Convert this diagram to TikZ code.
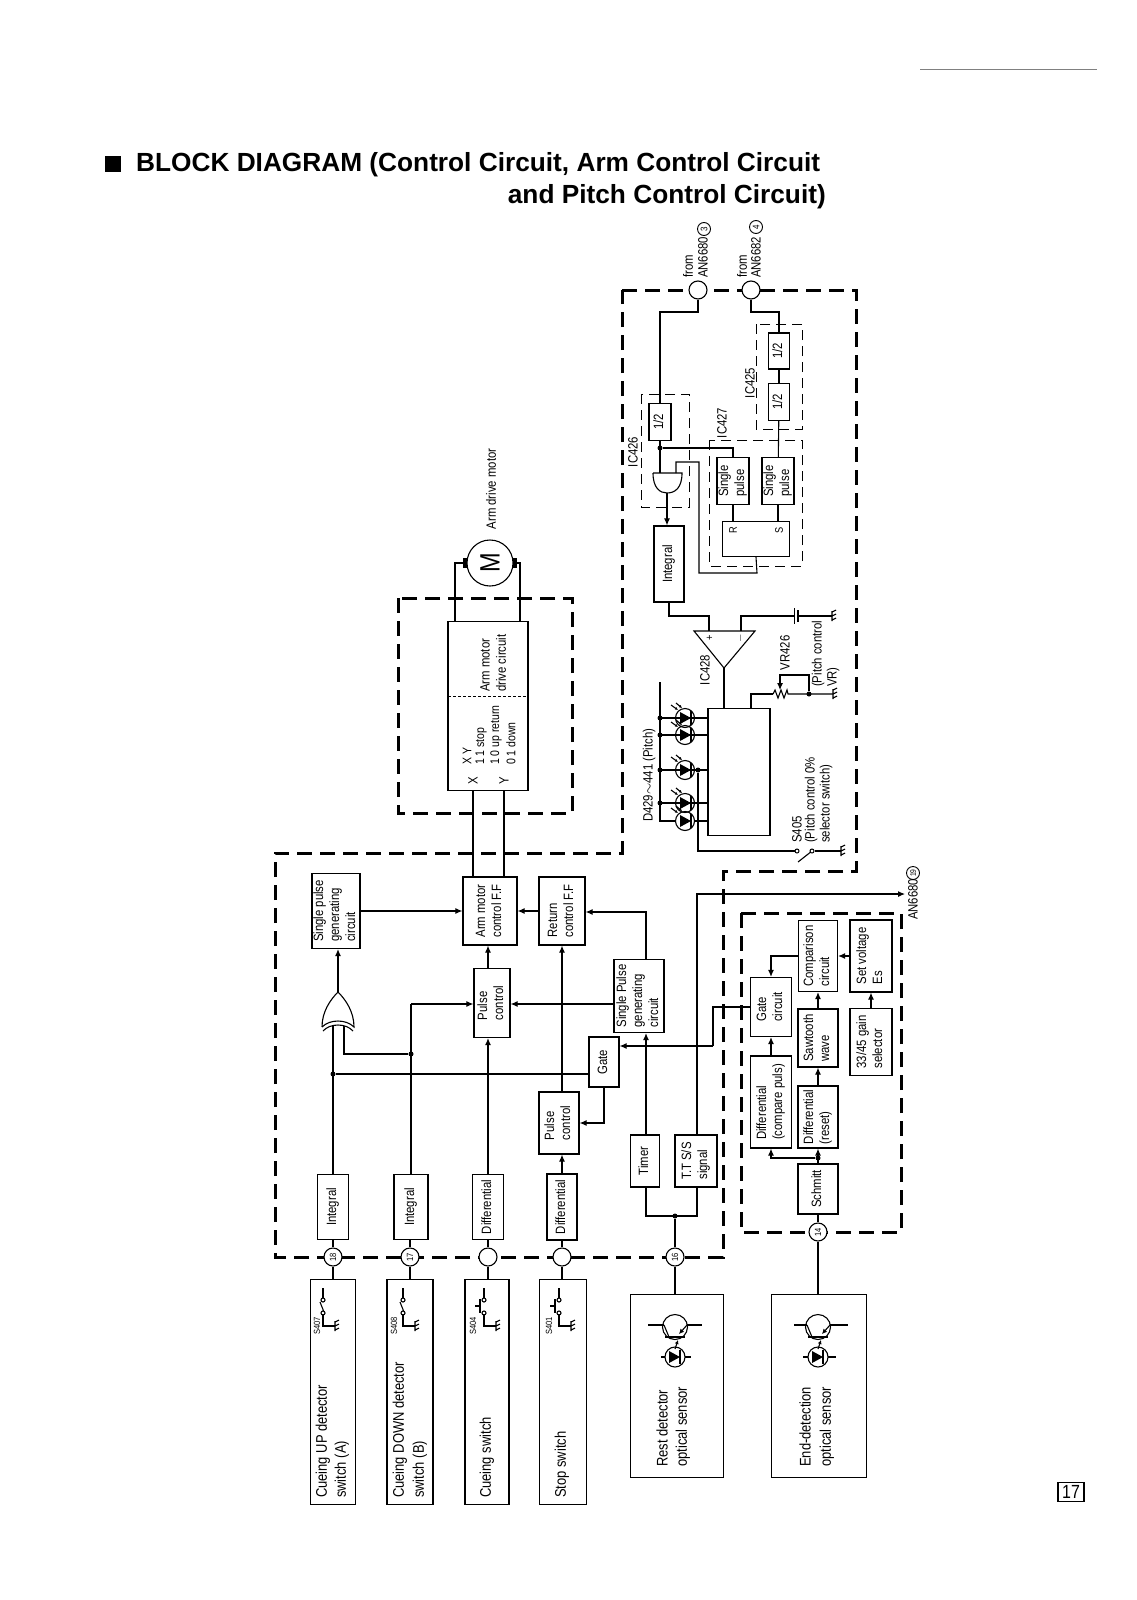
\documentclass[tikz,border=0pt]{standalone}
\usepackage{fontspec}
\setmainfont{Liberation Sans}[FakeStretch=0.84]
\newfontfamily\titlefont{Liberation Sans}
\usetikzlibrary{arrows.meta}
\newcommand{\rtxt}[1]{\rotatebox{90}{\begin{tabular}{@{}l@{}}#1\end{tabular}}}
\tikzset{
  wire/.style={line width=1.1pt},
  arr/.style={wire,-{Latex[length=7pt,width=6pt]}},
  fatdash/.style={line width=3pt,dash pattern=on 15pt off 8pt},
  icdash/.style={line width=1pt,dash pattern=on 10pt off 6pt},
  blk/.style 2 args={draw,line width=1.2pt,inner sep=0pt,minimum width=#1,minimum height=#2,font=\fontsize{13.5}{16}\selectfont},
  port/.style={draw,circle,fill=white,line width=1.1pt,inner sep=0pt,minimum size=18pt,font=\fontsize{9}{9}\selectfont},
  cnum/.style={draw,circle,line width=.9pt,inner sep=0pt,minimum size=13pt,font=\fontsize{9.5}{9.5}\selectfont},
  dot/.style={circle,fill=black,inner sep=0pt,minimum size=5pt},
  lab/.style={rotate=90,anchor=west,inner sep=0pt,font=\fontsize{13.5}{16}\selectfont},
  biglab/.style={lab,font=\fontsize{15.4}{19}\selectfont},
  tablab/.style={lab,font=\fontsize{12.5}{14}\selectfont},
  small/.style={rotate=90,inner sep=0pt,font=\fontsize{9}{9}\selectfont},
  gnd/.pic={\draw[wire] (0,-5) -- (0,5) (0,-4) -- (4,-6) (0,0) -- (4,-2) (0,4) -- (4,2);},
  swopen/.pic={
    \draw[wire] (0,0) -- (0,10) (0,26) -- (0,38) -- (12,38);
    \draw[wire] (0,12) circle (2pt) (0,25) circle (2pt) (-3,14) -- (1,24);
    \path (12,38) pic {gnd};},
  swpush/.pic={
    \draw[wire] (0,0) -- (0,10) (0,26) -- (0,38) -- (12,38);
    \draw[wire] (0,12) circle (2pt) (0,25) circle (2pt);
    \draw[line width=1.8pt] (-4,11) -- (-4,25) (-9,18) -- (-4,18);
    \path (12,38) pic {gnd};},
  ledsym/.pic={
    \draw[wire] (0,0) circle (9.5pt);
    \fill (-5,-6) -- (6,0) -- (-5,6) -- cycle;
    \draw[line width=1.4pt] (6,-7) -- (6,7);
    \draw[wire,-{Latex[length=3pt,width=3pt]}] (-14,-13) -- (-7,-8);
    \draw[wire,-{Latex[length=3pt,width=3pt]}] (-9,-15) -- (-3,-10);},
  photo/.pic={
    \draw[wire] (0,0) circle (12.5pt);
    \draw[line width=1.8pt] (-10,10) -- (10,10);
    \draw[wire] (-11,-2) -- (-6,10);
    \draw[wire,{Latex[length=5pt,width=5pt]}-] (4,7) -- (12,-2);
    \draw[wire,-{Latex[length=4pt,width=4pt]}] (0,22) -- (3,13);
    \draw[wire] (0,30) circle (10pt);
    \fill (-6,24) -- (5,30) -- (-6,36) -- cycle;
    \draw[line width=1.4pt] (5,23) -- (5,37);}
}
\begin{document}
\begin{tikzpicture}[x=1pt,y=-1pt]
\useasboundingbox (0,0) rectangle (1136,1600);
% heading
\fill (105,156) rectangle (121,172);
\node[anchor=base west,inner sep=0pt,font=\titlefont\fontsize{26.25}{30}\selectfont\bfseries] at (136,171) (head1) {BLOCK DIAGRAM (Control Circuit, Arm Control Circuit};
\node[anchor=base east,inner sep=0pt,font=\titlefont\fontsize{26.25}{30}\selectfont\bfseries] at (826,203) (head2) {and Pitch Control Circuit)};
\draw[gray,line width=.7pt] (920,69) -- (1097,69);
% heavy dashed frames
\draw[fatdash] (622,290) -- (856,290) -- (856,871) -- (723,871) -- (723,1257) -- (275,1257) -- (275,853) -- (622,853) -- cycle;
\draw[fatdash] (398,598) rectangle (572,813);
\draw[fatdash] (741,913) rectangle (901,1232);
\draw[icdash] (641,394) rectangle (689,507);
\draw[icdash] (756,324) rectangle (802,429);
\draw[icdash] (709,440) rectangle (802,566);
% pitch part
\node[port] at (698,290) (p3) {};
\node[port] at (751,290) (p4) {};
\node[lab] at (688,278) (from1) {from};
\node[lab] at (703,278) (an1) {AN6680};
\node[cnum] at (704,229) (c3) {\rotatebox{90}{3}};
\node[lab] at (742,278) (from2) {from};
\node[lab] at (756,278) (an2) {AN6682};
\node[cnum] at (756,227) (c4) {\rotatebox{90}{4}};
\node[blk={22pt}{37pt}] at (660,422) (half1) {\rtxt{1/2}};
\node[blk={21pt}{36pt}] at (779,351) (half2) {\rtxt{1/2}};
\node[blk={21pt}{37pt}] at (779,402) (half3) {\rtxt{1/2}};
\node[blk={30pt}{47pt}] at (733,481) (single1) {\rtxt{Single\\pulse}};
\node[blk={30pt}{47pt}] at (778,481) (single2) {\rtxt{Single\\pulse}};
\node[blk={67pt}{35pt}] at (756,539) (ff) {};
\node[rotate=90,inner sep=0pt,font=\fontsize{11}{11}\selectfont] at (733,530) (rr) {R};
\node[rotate=90,inner sep=0pt,font=\fontsize{11}{11}\selectfont] at (779,530) (ss) {S};
\node[blk={30pt}{76pt}] at (669,564) (int3) {\rtxt{Integral}};
\node[blk={62pt}{127pt}] at (739,772) (pitchic) {};
\node[lab,anchor=center] at (633,452) (ic426) {IC426};
\node[lab,anchor=center] at (750,383) (ic425) {IC425};
\node[lab,anchor=center] at (722,423) (ic427) {IC427};
\node[lab,anchor=center] at (705,670) (ic428) {IC428};
\node[lab,anchor=center] at (785,653) (vr426) {VR426};
\node[lab] at (818,687) (vrtxt1) {(Pitch control};
\node[lab] at (833,687) (vrtxt2) {VR)};
\node[lab] at (649,822) (dtxt) {D429$\sim$441 (Pitch)};
\node[lab] at (797,843) (s405) {S405};
\node[lab] at (811,843) (s405a) {(Pitch control 0\%};
\node[lab] at (826,843) (s405b) {selector switch)};
\coordinate (andtop) at (667,473);
\coordinate (andout) at (667,493);
\coordinate (opa) at (724,668);
\draw[wire] (p3) |- (660,312) -- (half1.north);
\draw[wire] (p4) |- (779,312) -- (half2.north);
\draw[wire] (half2) -- (half3);
\draw[wire] (half3) -- (single2);
\draw[wire] (single1.south) -- (ff.north -| single1);
\draw[wire] (single2.south) -- (ff.north -| single2);
\node[dot] at (660,448) (j1) {};
\draw[wire] (half1.south) -- (660,473);
\draw[wire] (j1) -| (single1.north);
\draw[wire] (653,473) -- (682,473) .. controls (682,488) and (675,493) .. (andout) .. controls (660,493) and (653,488) .. (653,473);
\draw[wire] (ff.south) -- (757,573) -- (699,573) -- (699,462) -- (676,462) -- (676,473);
\draw[arr] (andout) -- (int3.north -| andout);
\draw[wire] (int3.south) |- (709,616) -- (709,631);
\draw[wire] (694,631) -- (755,631) -- (opa) -- cycle;
\node[font=\fontsize{11}{11}\selectfont,rotate=90,inner sep=0pt] at (710,638) (plus) {+};
\node[font=\fontsize{11}{11}\selectfont,rotate=90,inner sep=0pt] at (741,638) (minus) {$-$};
\draw[wire] (741,631) |- (794,616);
\draw[line width=1pt] (794,608) -- (794,624);
\draw[line width=2pt] (798,610) -- (798,622);
\draw[wire] (798,616) -- (832,616);
\path (832,616) pic {gnd};
\draw[wire] (opa) -- (pitchic.north -| opa);
\draw[wire] (pitchic.north -| 751,0) |- (773,694);
\draw[wire] (773,694) -- (775,690) -- (778,698) -- (781,690) -- (784,698) -- (787,690) -- (788,694) -- (833,694);
\path (833,694) pic {gnd};
\node[dot] at (809,694) (j2) {};
\draw[arr] (j2) |- (780,675) -- (780,690);
% LED row
\draw[wire] (660,682) -- (660,821) -- (676,821);
\foreach \ly/\lyn in {718/a,735/b,770/c,803/d}
  \node[dot] at (660,\ly) (rail\lyn) {};
\foreach \ly in {718,735,770,803}
  \draw[wire] (660,\ly) -- (708,\ly);
\draw[wire] (694,821) -- (708,821);
\foreach \ly in {718,735,770,803,821}
  \path (685,\ly) pic {ledsym};
\node[dot] at (698,770) (j3) {};
\node[draw,circle,line width=1pt,inner sep=0pt,minimum size=4pt] at (797,851) (ct1) {};
\node[draw,circle,line width=1pt,inner sep=0pt,minimum size=4pt] at (812,851) (ct2) {};
\draw[wire] (j3) |- (ct1);
\draw[wire] (ct2) -- (841,851);
\draw[wire] (798,862) -- (ct2);
\path (841,851) pic {gnd};
% arm drive part
\node[blk={80pt}{169pt}] at (488,706) (drive) {};
\draw[line width=1pt,dash pattern=on 3pt off 2pt] (448,696) -- (528,696);
\node[lab] at (485,692) (drv1) {Arm motor};
\node[lab] at (501,692) (drv2) {drive circuit};
\node[tablab] at (467,765) (tb0) {X Y};
\node[tablab] at (481,765) (tb1) {1 1 stop};
\node[tablab] at (496,765) (tb2) {1 0 up return};
\node[tablab] at (511,765) (tb3) {0 1 down};
\node[lab,anchor=center] at (473,781) (xx) {X};
\node[lab,anchor=center] at (504,781) (yy) {Y};
\node[draw,circle,line width=1.1pt,inner sep=0pt,minimum size=46pt,font=\fontsize{28}{28}\selectfont] at (490,563) (motor) {\rotatebox{90}{M}};
\fill (463,558) rectangle (467,568);
\fill (513,558) rectangle (517,568);
\node[lab,anchor=center] at (491,489) (mlab) {Arm drive motor};
\draw[wire] (465,563) -- (455,563) -- (drive.north -| 455,0);
\draw[wire] (515,563) -- (520,563) -- (drive.north -| 520,0);
% control part
\node[blk={54pt}{68pt}] at (490,911) (armff) {\rtxt{Arm motor\\control F.F}};
\node[blk={46pt}{68pt}] at (562,911) (retff) {\rtxt{Return\\control F.F}};
\node[blk={46pt}{75pt}] at (336,911) (single3) {\rtxt{Single pulse\\generating\\circuit}};
\node[blk={36pt}{69pt}] at (492,1003) (pulse1) {\rtxt{Pulse\\control}};
\node[blk={40pt}{62pt}] at (559,1123) (pulse2) {\rtxt{Pulse\\control}};
\node[blk={30pt}{50pt}] at (604,1062) (gate) {\rtxt{Gate}};
\node[blk={50pt}{73pt}] at (639,996) (single4) {\rtxt{Single Pulse\\generating\\circuit}};
\node[blk={31pt}{65pt}] at (333,1207) (int1) {\rtxt{Integral}};
\node[blk={34pt}{65pt}] at (411,1207) (int2) {\rtxt{Integral}};
\node[blk={31pt}{65pt}] at (488,1207) (diff1) {\rtxt{Differential}};
\node[blk={30pt}{66pt}] at (562,1207) (diff2) {\rtxt{Differential}};
\node[blk={29pt}{52pt}] at (645,1161) (timer) {\rtxt{Timer}};
\node[blk={42pt}{52pt}] at (696,1161) (tts) {\rtxt{T.T S/S\\signal}};
\node[port] at (333,1257) (p18) {\rotatebox{90}{18}};
\node[port] at (410,1257) (p17) {\rotatebox{90}{17}};
\node[port] at (488,1257) (pa) {};
\node[port] at (562,1257) (pb) {};
\node[port] at (675,1257) (p16) {\rotatebox{90}{16}};
\node[port] at (818,1232) (p14) {\rotatebox{90}{14}};
\draw[wire] (armff.north -| xx) -- (drive.south -| xx);
\draw[wire] (armff.north -| yy) -- (drive.south -| yy);
\draw[arr] (single3.east |- armff) -- (armff.west);
\draw[arr] (retff.west) -- (armff.east);
\draw[arr] (pulse1.north -| 488,0) -- (armff.south -| 488,0);
% exclusive or
\coordinate (xortip) at (338,992);
\draw[wire] (322,1027) .. controls (322,1012) and (330,1000) .. (xortip) .. controls (346,1000) and (354,1012) .. (354,1027) .. controls (346,1019) and (330,1019) .. (322,1027);
\draw[wire] (323,1031) .. controls (330,1023) and (346,1023) .. (353,1031);
\draw[arr] (xortip) -- (single3.south -| xortip);
\node[dot] at (333,1074) (j4) {};
\node[dot] at (411,1054) (j5) {};
\draw[wire] (int1.north) -- (333,1026);
\draw[wire] (j5) -- (344,1054) -- (344,1026);
\draw[wire] (int2.north) -- (411,1004);
\draw[arr] (411,1004) -- (pulse1.west |- 0,1004);
\draw[wire] (j4) -- (gate.west |- j4);
\draw[arr] (diff1.north) -- (pulse1.south -| diff1);
\draw[arr] (diff2.north) -- (pulse2.south -| diff2);
\draw[arr] (pulse2.north -| retff) -- (retff.south);
\draw[wire] (gate.south) |- (590,1123);
\draw[arr] (590,1123) -- (pulse2.east |- 0,1123);
\draw[wire] (single4.north -| 646,0) |- (610,912);
\draw[arr] (610,912) -- (retff.east |- 0,912);
\draw[arr] (single4.west |- 0,1004) -- (pulse1.east |- 0,1004);
\draw[arr] (timer.north -| 646,0) -- (single4.south -| 646,0);
\draw[wire] (timer.south -| 646,0) |- (697,1216) -- (tts.south -| 697,0);
\node[dot] at (675,1216) (j6) {};
\draw[wire] (p16) -- (j6);
\node[lab] at (913,920) (an3) {AN6680};
\node[cnum] at (913,873) (c19) {\rotatebox{90}{\fontsize{8}{8}\selectfont 19}};
\coordinate (anout) at (905,894);
\draw[arr] (tts.north -| 697,0) |- (anout);
\draw[wire] (int1.south) -- (p18);
\draw[wire] (int2.south -| p17) -- (p17);
\draw[wire] (diff1.south) -- (pa);
\draw[wire] (diff2.south) -- (pb);
% end detection part
\node[blk={41pt}{59pt}] at (771,1007) (gatec) {\rtxt{Gate\\circuit}};
\node[blk={39pt}{71pt}] at (818,956) (comp) {\rtxt{Comparison\\circuit}};
\node[blk={42pt}{72pt}] at (871,956) (setv) {\rtxt{Set voltage\\Es}};
\node[blk={42pt}{67pt}] at (871,1042) (sel) {\rtxt{33/45 gain\\selector}};
\node[blk={40pt}{58pt}] at (818,1038) (saw) {\rtxt{Sawtooth\\wave}};
\node[blk={40pt}{62pt}] at (818,1117) (dreset) {\rtxt{Differential\\(reset)}};
\node[blk={41pt}{92pt}] at (771,1102) (dcomp) {\rtxt{Differential\\(compare puls)}};
\node[blk={40pt}{50pt}] at (818,1189) (schmitt) {\rtxt{Schmitt}};
\draw[arr] (comp.west) -| (gatec.north);
\draw[arr] (setv.west) -- (comp.east);
\draw[arr] (sel.north) -- (setv.south);
\draw[arr] (saw.north) -- (comp.south);
\draw[arr] (dreset.north) -- (saw.south);
\draw[arr] (dcomp.north) -- (gatec.south);
\draw[arr] (schmitt.north) -- (dreset.south);
\node[dot] at (818,1158) (j7) {};
\draw[arr] (j7) -| (dcomp.south);
\draw[wire] (gatec.west) -- (713,1007 |- gatec) -- (713,1046);
\draw[arr] (713,1046) -- (gate.east |- 0,1046);
\draw[wire] (schmitt.south) -- (p14);
% bottom blocks
\node[blk={45pt}{225pt}] at (333,1392) (cueup) {};
\node[blk={46pt}{225pt}] at (410,1392) (cuedown) {};
\node[blk={44pt}{225pt}] at (487,1392) (cuesw) {};
\node[blk={47pt}{225pt}] at (563,1392) (stopsw) {};
\node[blk={93pt}{183pt}] at (677,1386) (rest) {};
\node[blk={95pt}{183pt}] at (819,1386) (endb) {};
\draw[wire] (p18) -- (p18 |- cueup.north);
\draw[wire] (p17) -- (p17 |- cuedown.north);
\draw[wire] (pa) -- (pa |- cuesw.north);
\draw[wire] (pb) -- (pb |- stopsw.north);
\draw[wire] (p16) -- (p16 |- rest.north);
\draw[wire] (p14) -- (p14 |- endb.north);
\node[biglab] at (323,1498) (t1a) {Cueing UP detector};
\node[biglab] at (342,1498) (t1b) {switch (A)};
\node[biglab] at (400,1498) (t2a) {Cueing DOWN detector};
\node[biglab] at (420,1498) (t2b) {switch (B)};
\node[biglab] at (487,1498) (t3) {Cueing switch};
\node[biglab] at (562,1498) (t4) {Stop switch};
\node[biglab] at (662,1467) (t5a) {Rest detector};
\node[biglab] at (683,1467) (t5b) {optical sensor};
\node[biglab] at (805,1467) (t6a) {End-detection};
\node[biglab] at (827,1467) (t6b) {optical sensor};
\path (323,1288) pic {swopen};
\path (403,1288) pic {swopen};
\path (484,1288) pic {swpush};
\path (559,1288) pic {swpush};
\node[small] at (317,1326) (s407) {S407};
\node[small] at (394,1326) (s408) {S408};
\node[small] at (473,1326) (s404) {S404};
\node[small] at (549,1326) (s401) {S401};
\path (675,1327) pic {photo};
\path (818,1327) pic {photo};
\draw[wire] (648,1325) -- (664,1325) (687,1325) -- (702,1325) (661,1357) -- (665,1357) (685,1357) -- (691,1357);
\draw[wire] (794,1325) -- (807,1325) (830,1325) -- (848,1325) (803,1357) -- (808,1357) (828,1357) -- (836,1357);
% page number
\node[draw,line width=1.5pt,minimum width=26pt,minimum height=19pt,inner sep=0pt,font=\fontsize{19}{19}\selectfont] at (1071,1492) (pageno) {17};
\end{tikzpicture}
\end{document}
